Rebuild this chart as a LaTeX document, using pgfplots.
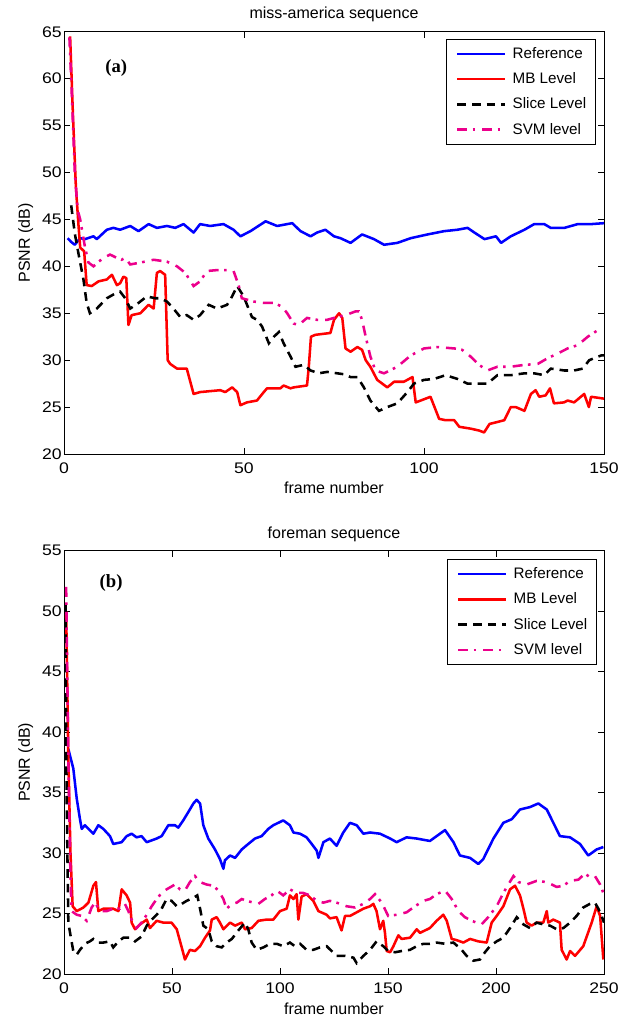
\documentclass[border=0pt]{standalone}
\usepackage{fontspec}
\setmainfont{Liberation Sans}
\newfontfamily\tickfont[FakeStretch=1.15]{Liberation Sans}
\newfontfamily\timesfont{Liberation Serif}
\usepackage{pgfplots}
\pgfplotsset{compat=1.18}

\pgfplotsset{
  psnr/.style={
    scale only axis, width=405pt,
    axis line style={line width=0.6pt},
    tick align=inside, major tick length=4.5pt,
    tick style={line width=0.6pt, black},
    /pgf/number format/assume math mode=true,
    tick label style={font=\tickfont\fontsize{11.5}{13}\selectfont},
    xticklabel style={anchor=base, yshift=-14.8pt},
    yticklabel style={anchor=east, inner sep=0pt, xshift=-1.5pt},
    label style={font=\fontsize{12}{14}\selectfont},
    title style={font=\fontsize{12}{14}\selectfont, at={(0.5,1)}, anchor=base},
    ylabel style={at={(-0.063,0.5)}, anchor=base},
    xlabel={frame number}, ylabel={PSNR (dB)},
    legend cell align=left,
    legend image code/.code={\draw[#1] (0pt,0pt) -- (36pt,0pt);},
    legend style={anchor=north east, draw=black, line width=0.6pt, fill=white,
      font=\fontsize{11.4}{13}\selectfont, inner xsep=7pt, inner ysep=6pt,
      nodes={inner sep=0pt}, row sep=9.2pt, /tikz/column sep=4.5pt},
  },
  refl/.style={blue, line width=1.9pt, line join=round},
  mbl/.style={red, line width=1.9pt, line join=round},
  slicel/.style={black, line width=1.9pt, dash pattern=on 6.5pt off 4.5pt},
  svml/.style={magenta, line width=1.9pt, dash pattern=on 7.5pt off 4pt on 2pt off 5.25pt},
}

\begin{document}
\begin{tikzpicture}
\useasboundingbox (0pt,0pt) rectangle (471.75pt,-763.5pt);

% (a) miss-america
\begin{axis}[psnr, at={(48pt,-340.5pt)}, anchor=south west, height=316.7pt,
  xmin=0, xmax=150, ymin=20, ymax=65,
  xtick={0,50,100,150}, ytick={20,25,...,65},
  title={miss-america sequence}, title style={yshift=4pt},
  xlabel style={at={(0.5,0)}, anchor=base, yshift=-29.5pt},
  legend style={at={(0.985,0.983)}}]
\addplot[refl] coordinates {
(1,43.0) (2,42.6) (3,42.3) (4.5,43.0) (5.8,42.9) (8.2,43.2) (9.1,42.9) (10.5,43.4)
(11.9,43.9) (13.7,44.1) (15.6,43.9) (18.4,44.3) (20.7,43.75) (23.5,44.5) (25.8,44.1)
(28.6,44.3) (30.9,44.1) (33.2,44.5) (36,43.6) (37.8,44.5) (40.6,44.3) (44.3,44.5)
(47.1,43.9) (49,43.2) (51.8,43.75) (56,44.8) (59.2,44.3) (63.4,44.6) (65.7,43.75)
(68.5,43.2) (70.3,43.6) (72.6,43.9) (75,43.2) (76.8,43.0) (79.6,42.5) (82.8,43.4)
(86.1,42.9) (88.9,42.3) (92.6,42.5) (96.3,43.0) (101,43.4) (105.6,43.75) (109.3,43.9)
(112.1,44.1) (114,43.6) (116.8,42.9) (120,43.2) (121.4,42.5) (124.1,43.2) (127.9,43.9)
(130.6,44.5) (133.4,44.5) (135.2,44.1) (139,44.1) (142.7,44.5) (146.4,44.5) (150,44.6)
};
\addlegendentry{Reference}
\addplot[mbl] coordinates {
(1.7,64.5) (2.5,56) (3.3,48.5) (4.0,44.5) (4.5,42.0) (5.6,41.6) (6.3,38.0) (7.7,37.9)
(9.6,38.4) (11.9,38.6) (13.3,39.1) (14.7,38.0) (15.6,38.2) (16.5,38.9) (17.3,38.75)
(17.9,33.75) (18.8,34.8) (21.2,35.0) (23.5,35.9) (24.9,35.5) (25.8,39.3) (26.7,39.5)
(28.1,39.1) (28.8,30) (29.5,29.6) (31.4,29.1) (34.1,29.1) (36,26.4) (37.8,26.6)
(43.4,26.8) (44.8,26.6) (46.7,27.1) (48.1,26.6) (49,25.2) (50.8,25.5) (53.6,25.7)
(55.5,26.6) (56.4,27.0) (60.1,27.0) (61,27.3) (62.9,27.0) (63.8,27.1) (67.5,27.3)
(68,29.3) (68.6,32.5) (69.8,32.7) (74,32.9) (75,34.3) (76.4,35.0) (77.3,34.5)
(78.2,31.25) (79.6,30.9) (81.5,31.4) (82.8,31.1) (83.8,30) (85.1,29.3) (87,27.9)
(89.8,27.1) (91.7,27.7) (94.4,27.7) (96.8,28.2) (97.7,25.5) (99.1,25.7) (101.8,26.1)
(104.2,23.75) (106,23.6) (108.4,23.6) (109.8,22.9) (113,22.7) (115.3,22.5) (116.7,22.3)
(118.2,23.2) (122.3,23.6) (124.1,25) (125.5,25) (127.9,24.6) (129.7,26.4) (131,26.8)
(132,26.1) (133.8,26.25) (135,27.0) (136.1,25.4) (138.9,25.5) (139.9,25.7) (141.7,25.5)
(144.5,26.4) (145.8,25) (146.4,26.1) (150,25.9)
};
\addlegendentry{MB Level}
\addplot[slicel] coordinates {
(2,46.5) (3,43.5) (4,41.4) (5.4,38.6) (6.3,36.1) (7.2,35.0) (9.1,35.5) (11.9,36.6)
(14.2,37.1) (15.6,37.3) (17,36.6) (18.4,35.5) (20.7,36.1) (23,36.8) (25.3,36.6)
(26.7,36.6) (28.6,36.25) (30.4,35.5) (32.3,34.6) (34.1,34.8) (36,34.3) (37.8,34.8)
(40.2,35.9) (42.5,35.5) (45.3,35.9) (46.7,36.8) (48.1,37.9) (49.9,36.8) (52.2,34.6)
(53.6,34.3) (55,33.6) (56.9,31.8) (58.3,32.5) (59.7,33.0) (61,31.8) (62.9,30.4)
(64.3,29.3) (66.6,29.5) (68.5,28.9) (70.8,28.6) (73.1,28.75) (75.9,28.6) (77.8,28.5)
(79.6,28.2) (81.5,28.2) (83.3,27.1) (85.1,25.7) (87.5,24.6) (89.8,25) (92.6,25.4)
(95.4,26.6) (97.2,27.5) (100,27.9) (102.8,28.0) (106,28.4) (109.3,28.0) (112.1,27.5)
(114.9,27.5) (117.6,27.5) (120.4,28.4) (124.1,28.4) (127.9,28.6) (130.6,28.6)
(133.4,28.4) (135.2,29.1) (139,28.9) (141.7,28.9) (144.1,29.1) (145.9,30) (149.2,30.5)
(150,30.5)
};
\addlegendentry{Slice Level}
\addplot[svml] coordinates {
(1.5,64.4) (2.2,58) (3,50) (3.8,46) (4.5,45) (5.8,42.1) (6.8,40.4) (8.2,40) (10.9,40.9)
(12.8,41.25) (14.7,40.9) (16.0,40.7) (17,40.9) (18.4,40.2) (21.2,40.4) (24.9,40.7)
(28.6,40.5) (31.4,40) (33.7,39.3) (36,37.9) (37.8,38.4) (39.7,39.5) (42.5,39.6)
(45.3,39.6) (47.1,39.5) (48.5,38.0) (49.4,36.6) (52.7,36.25) (55.5,36.1) (58.3,36.1)
(60.6,35.7) (62,35) (63.8,33.9) (65.2,33.75) (67.5,34.5) (70.3,34.3) (73.1,34.3)
(75.9,34.6) (78.2,34.8) (81,35.2) (81.9,35.2) (82.8,34.3) (83.8,32.5) (85.1,30.4)
(86.5,28.9) (88.9,28.6) (92.6,29.3) (96.3,30.5) (100,31.25) (103.7,31.4) (108.4,31.25)
(110.6,31.1) (112.9,30.4) (115.3,29.5) (117.6,28.9) (120.4,29.3) (124.1,29.3)
(127.9,29.5) (131.6,29.6) (134.3,30.2) (137.1,30.7) (139.9,31.25) (142.7,31.6)
(145.5,32.5) (148.3,33.2)
};
\addlegendentry{SVM level}
\node[font=\timesfont\bfseries\fontsize{14}{16}\selectfont] at (axis cs:14.5,61.15) {(a)};
\end{axis}

% (b) foreman
\begin{axis}[psnr, at={(48pt,-730.5pt)}, anchor=south west, height=317.5pt,
  xmin=0, xmax=250, ymin=20, ymax=55,
  xtick={0,50,...,250}, ytick={20,25,...,55},
  title={foreman sequence}, title style={yshift=3.5pt},
  xlabel style={at={(0.5,0)}, anchor=base, yshift=-30.5pt},
  legend style={at={(0.987,0.980)}}]
\addplot[refl] coordinates {
(1.5,38.6) (2,38.6) (4.3,37) (5.9,34.5) (7.4,32.8) (8.2,32.0) (9.7,32.3) (13.6,31.6)
(15.9,32.3) (18.2,32.0) (21.3,31.4) (22.8,30.75) (26.7,30.9) (29,31.4) (31.3,31.6)
(33.6,31.3) (35.9,31.4) (38.3,30.9) (42.9,31.2) (45.2,31.4) (48.3,32.3) (51.4,32.3)
(52.9,32.1) (55.2,32.7) (57.6,33.4) (59.9,34.1) (61.4,34.4) (63,34.1) (64.5,32.3)
(66.8,31.2) (69.9,30.3) (72.2,29.5) (73.8,28.7) (74.5,29.4) (76.9,29.8) (79.2,29.6)
(82.3,30.3) (85.3,30.75) (88.4,31.2) (91.5,31.4) (94.6,32.0) (96.9,32.3) (101.5,32.7)
(104.6,32.3) (106.2,31.7) (109.3,31.6) (112.3,31.3) (114.7,30.75) (117,30.2)
(117.8,29.6) (120.1,30.9) (123.1,31.2) (126.2,30.6) (129.3,31.7) (132.4,32.5)
(135.5,32.3) (138.6,31.6) (141.7,31.7) (146.3,31.6) (151,31.2) (154,30.9) (158.6,31.3)
(163.3,31.2) (169.4,31.0) (176.4,31.9) (180.3,30.9) (183.3,29.8) (188,29.6) (191.8,29.1)
(194.1,29.5) (198.8,31.2) (203.4,32.5) (207.3,32.8) (211.1,33.6) (215.7,33.8)
(219.6,34.1) (223.5,33.6) (229.6,31.4) (234.3,31.3) (238.9,30.75) (242.7,29.8)
(246.6,30.3) (249.7,30.5)
};
\addlegendentry{Reference}
\addplot[mbl] coordinates {
(1,50) (2,38) (3,30) (4,25.6) (5.9,25.2) (9,25.5) (11.3,25.9) (13.6,27.3) (14.8,27.6)
(15.9,25.2) (18.2,25.4) (22.8,25.4) (25.2,25.2) (26.7,27.0) (29,26.5) (30.6,25.9)
(31.3,24.25) (32.9,23.7) (35.2,24.1) (38.3,24.5) (39.8,23.8) (42.9,24.4) (46,24.25)
(49.8,24.25) (52.2,23.7) (54.5,22.2) (56,21.2) (58.3,22.0) (60.6,21.9) (63,22.3)
(65.3,23.0) (67.6,23.6) (68.4,24.5) (70.7,24.7) (72.2,24.25) (73.8,23.7) (76.9,24.25)
(79.2,24.0) (82.3,24.25) (83.8,23.7) (86.9,23.8) (90,24.4) (93.8,24.5) (96.9,24.5)
(100,25.2) (103.1,25.4) (104.6,26.5) (106.2,26.2) (107.7,26.6) (108.5,24.5) (110,26.4)
(112.3,26.6) (115.4,26.05) (117.8,25.2) (121.6,24.9) (123.1,24.6) (126.2,24.7)
(128.5,23.6) (130.1,24.8) (132.4,24.8) (135.5,25.1) (138.6,25.4) (141.7,25.6)
(143.2,25.8) (144.7,25.2) (146.3,23.7) (147.8,24.4) (148.6,23.4) (149.4,21.9)
(151,21.8) (152.5,22.3) (154.8,23.2) (156.3,22.9) (160.2,23.0) (163.3,23.7)
(164.8,23.4) (169.4,23.8) (172.5,24.4) (175.6,24.9) (177.2,24.4) (179.5,22.9)
(181.8,22.8) (184.9,22.6) (188,22.9) (191.8,22.7) (195.7,22.6) (198,24.25) (200.3,24.8)
(203.4,25.6) (206.5,27.0) (208.8,27.3) (211.1,26.5) (212.7,25.4) (214.2,24.25)
(216.5,24.0) (218.8,24.25) (221.9,24.25) (223.5,25.2) (224.2,24.25) (226.5,24.5)
(229.6,24.25) (230.4,22.0) (232.7,21.2) (234.3,21.9) (236.6,21.5) (240.4,22.3)
(244.3,24.25) (246.6,25.6) (248.2,24.8) (249.7,21.2)
};
\addlegendentry{MB Level}
\addplot[slicel] coordinates {
(0.7,50.5) (1.2,35) (2,24.25) (3.1,23.1) (4.3,21.9) (5.9,21.6) (7.4,22.0) (9.7,22.5)
(12,22.7) (13.6,22.9) (15.9,22.6) (18.2,22.6) (21.3,22.7) (22.8,22.2) (25.2,22.7)
(27.5,23.0) (30.6,23.0) (32.9,22.7) (35.9,23.1) (38.3,24.0) (40.6,24.5) (42.9,24.9)
(45.2,25.4) (47.5,26.2) (49.8,26.05) (52.2,25.6) (54.5,25.8) (56.8,26.05) (59.9,26.3)
(61.7,26.5) (63,25.4) (64.5,24.0) (66.8,23.7) (68.4,22.7) (70.7,22.3) (73,22.2)
(75.3,22.6) (77.7,22.9) (80.7,23.6) (83.8,24.25) (85.3,23.7) (86.9,22.6) (89.2,22.0)
(92.3,22.2) (95.4,22.5) (98.5,22.5) (101.5,22.3) (104.6,22.6) (106.9,22.3) (109.3,22.5)
(112.3,22.0) (115.4,22.0) (118.5,22.2) (121.6,22.3) (123.9,21.9) (126.2,21.5)
(130.1,21.5) (134,21.35) (135.5,20.9) (138.6,21.5) (141.7,22.0) (144.7,22.7)
(147.8,22.3) (150.1,21.9) (153.3,21.8) (156.3,21.9) (160.2,22.0) (163.3,22.3)
(166.4,22.5) (169.4,22.5) (172.5,22.6) (176.4,22.5) (180.3,22.6) (184.1,22.0)
(186.4,21.5) (189.5,21.1) (192.6,21.2) (194.9,21.8) (197.2,22.3) (200.3,22.7)
(203.4,23.0) (206.5,23.8) (209.6,24.7) (212.7,24.1) (215.7,23.8) (218.8,24.25)
(221.9,24.1) (225,24.0) (228.1,23.7) (231.2,23.8) (234.3,24.25) (237.3,24.8)
(240.4,25.5) (243.5,25.8) (245.8,25.9) (247.4,25.4) (248.9,24.8) (250,24.25)
};
\addlegendentry{Slice Level}
\addplot[svml] coordinates {
(1,52) (1.5,45) (2,38) (3,28) (3.5,25.2) (5.9,24.9) (8.2,24.8) (10.5,24.4) (12.8,25.5)
(14.4,25.9) (16.7,25.2) (19.8,25.2) (22.8,25.4) (25.9,25.4) (28.2,25.8) (29.8,25.2)
(31.3,24.5) (33.6,23.8) (35.9,24.25) (38.3,24.9) (40.6,25.6) (42.9,26.2) (45.2,26.7)
(47.5,27.0) (51.4,27.4) (53.7,27.0) (56,26.9) (58.3,27.6) (60.6,28.1) (63,27.6)
(66,27.4) (69.1,27.3) (71.5,26.9) (73.8,26.2) (75.3,25.4) (77.7,25.8) (80,25.9)
(82.3,26.2) (84.6,26.05) (87.7,25.9) (90,25.8) (93,26.2) (96.1,26.5) (98.5,26.9)
(101.5,26.5) (104.6,27.0) (107.7,26.7) (110.8,26.7) (113.9,26.5) (117,26.05)
(120.1,25.9) (123.1,26.05) (126.2,25.9) (130.9,25.6) (134.7,25.5) (138.6,25.8)
(141.7,26.2) (144,26.6) (147.1,25.9) (150.1,24.8) (154,24.9) (158.6,25.1) (162.5,25.6)
(166.4,26.05) (169.4,26.2) (172.5,26.6) (176.4,26.9) (179.5,26.2) (182.6,25.2)
(185.6,24.7) (188.7,24.4) (193.3,24.1) (196.4,24.7) (200.3,25.6) (203.4,26.7)
(205.7,27.4) (208.1,28.1) (210.4,27.6) (214.2,27.4) (218.8,27.7) (223.5,27.6)
(228.1,27.2) (231.2,27.3) (234.3,27.7) (238.1,27.8) (241.2,28.3) (243.5,28.0)
(245.8,28.1) (248.2,27.4) (249.7,26.7)
};
\addlegendentry{SVM level}
\node[font=\timesfont\bfseries\fontsize{14}{16}\selectfont] at (axis cs:21.8,52.3) {(b)};
\end{axis}
\end{tikzpicture}
\end{document}
